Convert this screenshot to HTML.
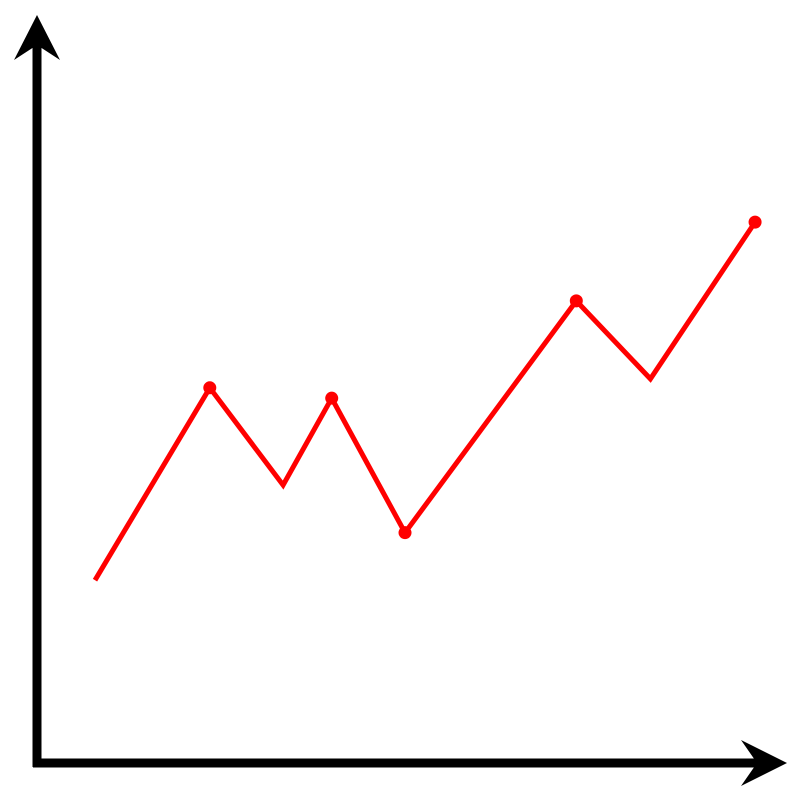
<!DOCTYPE html>
<html>
<head>
<meta charset="utf-8">
<style>
  html, body { margin: 0; padding: 0; background: #fff; }
  svg { display: block; }
</style>
</head>
<body>
<svg id="chart" width="800" height="800" viewBox="0 0 800 800" xmlns="http://www.w3.org/2000/svg">
  <g id="axes">
    <line x1="37" y1="40" x2="37" y2="767" stroke="#000" stroke-width="9"/>
    <line x1="33" y1="763" x2="765" y2="763" stroke="#000" stroke-width="9"/>
    <polygon points="37,15 60,60 37,45 14,60" fill="#000"/>
    <polygon points="787,763 741,740 757,763 741,786" fill="#000"/>
  </g>
  <g id="series"></g>
</svg>
<script>
const xValues = [7.75, 23.1, 32.9, 39.4, 49.2, 72.1, 82.0, 96.0];
const yValues = [24.6, 50.5, 37.4, 49.1, 31.0, 62.2, 51.7, 72.8];
const markerIndices = [1, 3, 4, 5, 7];

function xScale(v) { return 37 + v * 7.48; }
function yScale(v) { return 763 - v * 7.43; }

const NS = 'http://www.w3.org/2000/svg';
const g = document.getElementById('series');

const pts = xValues.map((x, i) => xScale(x).toFixed(1) + ',' + yScale(yValues[i]).toFixed(1)).join(' ');
const line = document.createElementNS(NS, 'polyline');


line.setAttribute('points', pts);
line.setAttribute('fill', 'none');
line.setAttribute('stroke', '#f00');
line.setAttribute('stroke-width', '5');
line.setAttribute('stroke-linejoin', 'miter');
g.appendChild(line);

markerIndices.forEach(i => {
  const c = document.createElementNS(NS, 'circle');
  
  
  c.setAttribute('cx', xScale(xValues[i]));
  c.setAttribute('cy', yScale(yValues[i]));
  c.setAttribute('r', '6.5');
  c.setAttribute('fill', '#f00');
  g.appendChild(c);
});
</script>
</body>
</html>
